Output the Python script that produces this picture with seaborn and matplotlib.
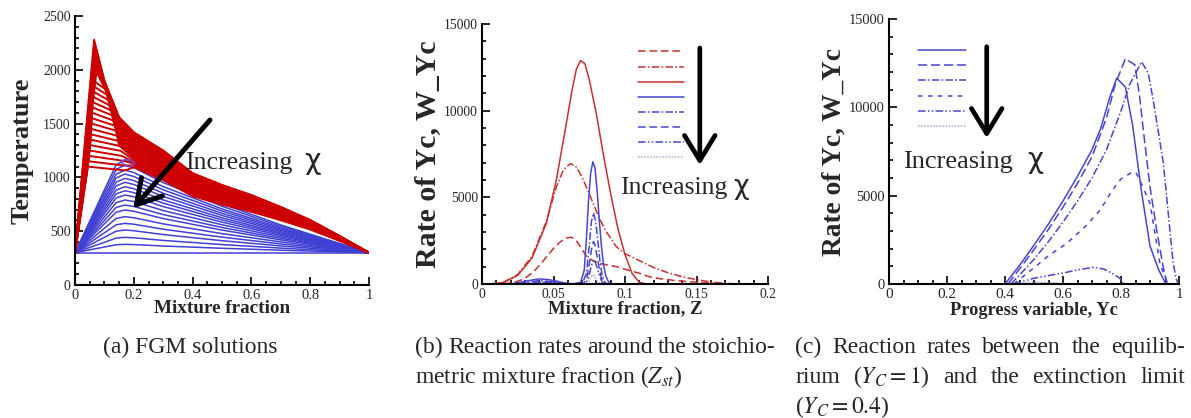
import matplotlib
matplotlib.use("Agg")
import matplotlib.pyplot as plt
import pandas as pd
import seaborn as sns
from matplotlib.lines import Line2D
from matplotlib.ticker import MultipleLocator, FuncFormatter

sns.set_theme(style="ticks")
plt.rcParams["font.family"] = ["Liberation Serif", "DejaVu Serif"]
plt.rcParams["mathtext.fontset"] = "stix"
plt.rcParams["axes.linewidth"] = 1.5

# ---------------------------------------------------------------- panel (a)
T_BOUNDARY = 300.0

# burning flamelets (red): peak, end of the plateau and decay level of each flamelet
red_peak_T = [2280, 2250, 2215, 2180, 2140, 2100, 2060, 2020, 1980,
              1900, 1850, 1800, 1750, 1700, 1650, 1600, 1550, 1500,
              1450, 1400, 1350, 1300, 1250, 1200, 1150, 1100]
red_peak_Z = [0.065, 0.066, 0.067, 0.068, 0.069, 0.070, 0.071, 0.072, 0.073,
              0.062, 0.062, 0.061, 0.061, 0.060, 0.060, 0.059, 0.058, 0.057,
              0.056, 0.055, 0.054, 0.052, 0.050, 0.048, 0.046, 0.044]
red_plateau_Z = [None] * 9 + [0.103, 0.107, 0.112, 0.116, 0.121, 0.125, 0.129, 0.134,
                             0.138, 0.142, 0.146, 0.151, 0.155, 0.159, 0.163, 0.167, 0.171]
red_plateau_T = [None] * 9 + [1820, 1770, 1720, 1672, 1625, 1578, 1530, 1482,
                             1435, 1388, 1340, 1293, 1247, 1200, 1155, 1110, 1065]
red_decay_level = [1.0, 0.995, 0.99, 0.985, 0.98, 0.975, 0.97, 0.965, 0.96,
                   0.95, 0.935, 0.92, 0.905, 0.89, 0.875, 0.86, 0.845, 0.83,
                   0.815, 0.80, 0.785, 0.77, 0.755, 0.74, 0.725, 0.71]
# lean-side envelope of the hottest flamelet
red_env_Z = [0.10, 0.15, 0.20, 0.30, 0.40, 0.50, 0.60, 0.70, 0.80, 0.90, 1.00]
red_env_T = [1900, 1560, 1420, 1250, 1040, 930, 836, 725, 604, 455, 300]

# extinguishing flamelets (blue): peak temperature at Z = 0.17
blue_peak_T = [300, 378, 443, 511, 573, 635, 697, 743, 790, 836,
               876, 913, 954, 991, 1031, 1068, 1115, 1160]
blue_shape_Z = [0.0, 0.14, 0.17, 0.20, 0.30, 0.50, 0.70, 0.85, 1.0]
blue_shape = [0.0, 0.95, 1.0, 0.97, 0.80, 0.53, 0.30, 0.15, 0.0]

# transition loop near the turning point
loop_Z = [0.158, 0.172, 0.188, 0.203, 0.197, 0.184, 0.170, 0.160, 0.158]
loop_T = [1150, 1168, 1162, 1132, 1108, 1100, 1112, 1135, 1150]

# ---------------------------------------------------------------- panel (b)
b_red_dash_Z = [0.015, 0.022, 0.028, 0.0315, 0.036, 0.041, 0.045, 0.050, 0.055, 0.059, 0.0625,
                0.066, 0.070, 0.073, 0.077, 0.082, 0.088, 0.094, 0.100, 0.110, 0.117, 0.125,
                0.135, 0.145, 0.155, 0.165, 0.175]
b_red_dash_W = [0, 80, 250, 420, 700, 1150, 1550, 2050, 2450, 2650, 2700,
                2500, 2000, 1600, 1380, 1200, 1090, 1000, 850, 620, 420, 300,
                200, 130, 70, 20, 0]
b_red_dashdot_Z = [0.005, 0.015, 0.025, 0.035, 0.045, 0.052, 0.057, 0.062, 0.066, 0.070, 0.074,
                   0.078, 0.082, 0.087, 0.094, 0.100, 0.110, 0.120, 0.130, 0.140, 0.150, 0.160,
                   0.170, 0.178]
b_red_dashdot_W = [0, 100, 550, 1600, 3600, 5600, 6600, 6950, 6750, 6150, 5400,
                   4600, 3800, 3000, 2150, 1750, 1350, 950, 650, 420, 250, 120,
                   40, 0]
b_red_solid_Z = [0.005, 0.015, 0.025, 0.035, 0.045, 0.052, 0.058, 0.063, 0.066, 0.069, 0.072,
                 0.075, 0.080, 0.085, 0.090, 0.095, 0.100, 0.105, 0.110, 0.115]
b_red_solid_W = [0, 80, 500, 1500, 3500, 6000, 8800, 11200, 12400, 12900, 12700,
                 11800, 9800, 7400, 5200, 3200, 1700, 600, 100, 0]
b_blue_solid_Z = [0.020, 0.028, 0.035, 0.040, 0.046, 0.052, 0.058, 0.064, 0.069, 0.0715, 0.073,
                  0.0745, 0.076, 0.0775, 0.079, 0.0805, 0.082, 0.0835, 0.085, 0.0865, 0.088,
                  0.0895, 0.091]
b_blue_solid_W = [0, 120, 230, 290, 260, 170, 60, 10, 100, 800, 2600,
                  4800, 6400, 7050, 6700, 5400, 3700, 2200, 1100, 500, 200,
                  50, 0]
b_blue_dashdot_Z = [0.025, 0.033, 0.040, 0.047, 0.054, 0.062, 0.070, 0.073, 0.075, 0.0765, 0.078,
                    0.0795, 0.081, 0.0825, 0.084, 0.086, 0.088]
b_blue_dashdot_W = [0, 120, 200, 150, 50, 0, 0, 600, 2200, 3600, 4100,
                    3600, 2500, 1300, 500, 100, 0]
b_blue_dash_Z = [0.028, 0.036, 0.042, 0.049, 0.056, 0.063, 0.071, 0.0735, 0.0755, 0.077, 0.078,
                 0.079, 0.0805, 0.082, 0.0835, 0.0855, 0.087]
b_blue_dash_W = [0, 90, 140, 100, 30, 0, 0, 400, 1400, 2200, 2450,
                 2250, 1600, 900, 350, 60, 0]
b_blue_dashdotdot_Z = [0.030, 0.038, 0.044, 0.050, 0.057, 0.064, 0.072, 0.074, 0.0757, 0.0772,
                       0.0782, 0.0795, 0.081, 0.0825, 0.084, 0.086]
b_blue_dashdotdot_W = [0, 60, 90, 60, 15, 0, 0, 250, 800, 1250,
                       1400, 1200, 800, 400, 120, 0]
b_light_dot_Z = [0.073, 0.0748, 0.0762, 0.0775, 0.0788, 0.080, 0.0815, 0.083]
b_light_dot_W = [0, 150, 420, 550, 450, 250, 80, 0]

# ---------------------------------------------------------------- panel (c)
c_solid_Y = [0.40, 0.45, 0.50, 0.55, 0.60, 0.65, 0.70, 0.73, 0.76, 0.785, 0.815, 0.84, 0.87,
             0.90, 0.93, 0.952, 0.955]
c_solid_W = [0, 1050, 2200, 3400, 4700, 6100, 7600, 8800, 10500, 11650, 11150, 9000, 5300,
             2150, 800, 100, 0]
c_longdash_Y = [0.41, 0.45, 0.50, 0.55, 0.60, 0.65, 0.70, 0.75, 0.78, 0.815, 0.848, 0.865, 0.877,
                0.90, 0.923, 0.945, 0.958, 0.96]
c_longdash_W = [0, 850, 1950, 3100, 4350, 5700, 7200, 9400, 11300, 12750, 12400, 10500, 8700,
                5500, 3050, 1000, 100, 0]
c_dashdot_Y = [0.42, 0.45, 0.50, 0.55, 0.60, 0.65, 0.70, 0.75, 0.80, 0.83, 0.871, 0.894, 0.91,
               0.93, 0.946, 0.96, 0.97, 0.98, 0.99, 0.998]
c_dashdot_W = [0, 500, 1400, 2400, 3500, 4700, 6000, 7600, 9800, 11300, 12580, 11930, 10500,
               8500, 6830, 4500, 2800, 1170, 300, 0]
c_shortdash_Y = [0.43, 0.498, 0.55, 0.613, 0.68, 0.728, 0.77, 0.80, 0.842, 0.853, 0.860, 0.90,
                 0.934, 0.958, 0.96]
c_shortdash_W = [0, 890, 1600, 2300, 3300, 4190, 5300, 5950, 6360, 6250, 6050, 4570,
                 1170, 130, 0]
c_dashdotdot_Y = [0.43, 0.498, 0.55, 0.60, 0.65, 0.705, 0.74, 0.77, 0.797, 0.80, 0.81]
c_dashdotdot_W = [0, 320, 480, 620, 800, 945, 850, 600, 320, 150, 0]
c_dot_Y = [0.44, 0.50, 0.55, 0.60, 0.65]
c_dot_W = [0, 120, 80, 30, 0]

# ---------------------------------------------------------------- styles
RED_A = "#cc0000"
BLUE_A = "#4040d4"
RED_B = "#c83030"
BLUE_B = "#4646d2"
LIGHT = "#b4a4d6"
PURPLE = "#8a3cc0"

DASH = (5, 2.5)
LONGDASH = (6, 2.5)
SHORTDASH = (3, 3.5)
DASHDOT = (5, 1.5, 1, 1.5)
DASHDOTDOT = (5, 1.5, 1, 1.5, 1, 1.5)
DOT = (1, 1)

W_PX, H_PX = 1191, 418
fig = plt.figure(figsize=(W_PX / 100, H_PX / 100), dpi=100)
ax_a = fig.add_axes([75 / W_PX, 133 / H_PX, 294 / W_PX, 269 / H_PX])
ax_b = fig.add_axes([482 / W_PX, 134 / H_PX, 286 / W_PX, 260 / H_PX])
ax_c = fig.add_axes([889 / W_PX, 134 / H_PX, 290 / W_PX, 265 / H_PX])

fmt = FuncFormatter(lambda v, p: f"{v:g}")


def style_axes(ax, xmax, ymax, xmaj, xmin, ymaj, ymin, xfs, yfs):
    ax.set_xlim(0, xmax)
    ax.set_ylim(0, ymax)
    sns.despine(ax=ax)
    ax.xaxis.set_major_locator(MultipleLocator(xmaj))
    ax.xaxis.set_minor_locator(MultipleLocator(xmin))
    ax.yaxis.set_major_locator(MultipleLocator(ymaj))
    ax.yaxis.set_minor_locator(MultipleLocator(ymin))
    ax.xaxis.set_major_formatter(fmt)
    ax.yaxis.set_major_formatter(fmt)
    ax.tick_params(which="both", direction="in", top=False, right=False,
                   color="black", width=1.2)
    ax.tick_params(which="major", length=5.5)
    ax.tick_params(which="minor", length=3)
    ax.tick_params(axis="x", labelsize=xfs, pad=3)
    ax.tick_params(axis="y", labelsize=yfs, pad=3)
    for lab in ax.get_xticklabels() + ax.get_yticklabels():
        lab.set_fontfamily(["Liberation Serif"])
    ax.set_facecolor("white")
    for s in ax.spines.values():
        s.set_color("black")


def axis_labels(ax, xl, yl, xfs, yfs, xly, ylx):
    ax.set_xlabel(xl, fontsize=xfs, fontweight="bold")
    ax.set_ylabel(yl, fontsize=yfs, fontweight="bold")
    ax.xaxis.set_label_coords(0.5, xly)
    ax.xaxis.label.set_va("baseline")
    ax.yaxis.set_label_coords(ylx, 0.5)
    ax.yaxis.label.set_va("center")


def increasing_chi(ax, x_word, x_chi, y, fs_word, fs_chi):
    ax.text(x_word, y, "Increasing", fontsize=fs_word, ha="left", va="baseline",
            family=["Liberation Serif"])
    ax.text(x_chi, y, "χ", fontsize=fs_chi, ha="left", va="baseline",
            family=["DejaVu Sans"])


# ---------------------------------------------------------------- draw (a)
blue_rows = []
for k, tp in enumerate(blue_peak_T):
    for z, s in zip(blue_shape_Z, blue_shape):
        blue_rows.append((k, z, T_BOUNDARY + (tp - T_BOUNDARY) * s))
blue_df = pd.DataFrame(blue_rows, columns=["flamelet", "Z", "T"])

red_rows = []
for k, tp in enumerate(red_peak_T):
    zs = [0.0, red_peak_Z[k]]
    ts = [T_BOUNDARY, tp]
    if red_plateau_Z[k] is not None:
        zs.append(red_plateau_Z[k])
        ts.append(red_plateau_T[k])
    for ze, te in zip(red_env_Z, red_env_T):
        if ze > zs[-1]:
            zs.append(ze)
            ts.append(T_BOUNDARY + (te - T_BOUNDARY) * red_decay_level[k])
    for z, t in zip(zs, ts):
        red_rows.append((k, z, t))
red_df = pd.DataFrame(red_rows, columns=["flamelet", "Z", "T"])

loop_df = pd.DataFrame({"Z": loop_Z, "T": loop_T})

sns.lineplot(data=blue_df, x="Z", y="T", units="flamelet", estimator=None, sort=False,
             color=BLUE_A, lw=1.1, ax=ax_a, legend=False)
sns.lineplot(data=red_df, x="Z", y="T", units="flamelet", estimator=None, sort=False,
             color=RED_A, lw=1.4, ax=ax_a, legend=False)
sns.lineplot(data=loop_df, x="Z", y="T", estimator=None, sort=False,
             color=PURPLE, lw=1.2, ax=ax_a, legend=False)

style_axes(ax_a, 1, 2500, 0.2, 0.05, 500, 100, 10.5, 10)
axis_labels(ax_a, "Mixture fraction", "Temperature", 13.8, 19, -0.104, -0.18)
ax_a.annotate("", xy=(0.198, 712), xytext=(0.459, 1533),
              arrowprops=dict(arrowstyle="->,head_length=0.85,head_width=0.5",
                              lw=3.6, color="black", shrinkA=0, shrinkB=0,
                              mutation_scale=20))
increasing_chi(ax_a, 0.374, 0.779, 1075, 18.5, 20.5)

# ---------------------------------------------------------------- draw (b)
b_cases = [
    ("1", b_red_dash_Z, b_red_dash_W, RED_B, DASH),
    ("2", b_red_dashdot_Z, b_red_dashdot_W, RED_B, DASHDOT),
    ("3", b_red_solid_Z, b_red_solid_W, RED_B, ""),
    ("4", b_blue_solid_Z, b_blue_solid_W, BLUE_B, ""),
    ("5", b_blue_dashdot_Z, b_blue_dashdot_W, BLUE_B, DASHDOT),
    ("6", b_blue_dash_Z, b_blue_dash_W, BLUE_B, DASH),
    ("7", b_blue_dashdotdot_Z, b_blue_dashdotdot_W, BLUE_B, DASHDOTDOT),
    ("8", b_light_dot_Z, b_light_dot_W, LIGHT, DOT),
]
b_df = pd.concat([pd.DataFrame({"case": c, "Z": z, "W": w}) for c, z, w, _, _ in b_cases])
sns.lineplot(data=b_df, x="Z", y="W", hue="case", style="case", units="case",
             estimator=None, sort=False,
             palette={c: col for c, _, _, col, _ in b_cases},
             dashes={c: d for c, _, _, _, d in b_cases},
             lw=1.1, ax=ax_b, legend=False)
style_axes(ax_b, 0.2, 15000, 0.05, 0.01, 5000, 1000, 9.8, 9.8)
axis_labels(ax_b, "Mixture fraction, Z", "Rate of Yc, W_Yc", 13.4, 21.5, -0.1115, -0.19)

handles_b = [Line2D([], [], color=col, lw=1.1,
                    linestyle=(0, d) if d else "-") for _, _, _, col, d in b_cases]
ax_b.legend(handles_b, [""] * len(handles_b), loc="upper left",
            bbox_to_anchor=(0.545, 0.9085), frameon=False, fontsize=7,
            handlelength=4.7, handletextpad=0, borderpad=0, borderaxespad=0,
            labelspacing=0.63)
ax_b.annotate("", xy=(0.1523, 6865), xytext=(0.1523, 13615),
              arrowprops=dict(arrowstyle="->,head_length=0.9,head_width=0.55",
                              lw=3.4, color="black", shrinkA=0, shrinkB=0,
                              mutation_scale=20))
increasing_chi(ax_b, 0.0965, 0.1755, 5175, 18.5, 19.5)

# ---------------------------------------------------------------- draw (c)
c_cases = [
    ("1", c_solid_Y, c_solid_W, ""),
    ("2", c_longdash_Y, c_longdash_W, LONGDASH),
    ("3", c_dashdot_Y, c_dashdot_W, DASHDOT),
    ("4", c_shortdash_Y, c_shortdash_W, SHORTDASH),
    ("5", c_dashdotdot_Y, c_dashdotdot_W, DASHDOTDOT),
    ("6", c_dot_Y, c_dot_W, DOT),
]
c_colors = {"1": BLUE_B, "2": BLUE_B, "3": BLUE_B, "4": BLUE_B, "5": BLUE_B, "6": LIGHT}
c_df = pd.concat([pd.DataFrame({"case": c, "Yc": y, "W": w}) for c, y, w, _ in c_cases])
sns.lineplot(data=c_df, x="Yc", y="W", hue="case", style="case", units="case",
             estimator=None, sort=False, palette=c_colors,
             dashes={c: d for c, _, _, d in c_cases},
             lw=1.1, ax=ax_c, legend=False)
style_axes(ax_c, 1, 15000, 0.2, 0.05, 5000, 1000, 11, 10.4)
axis_labels(ax_c, "Progress variable, Yc", "Rate of Yc, W_Yc", 13.2, 19.7, -0.117, -0.19)

handles_c = [Line2D([], [], color=c_colors[c], lw=1.1,
                    linestyle=(0, d) if d else "-") for c, _, _, d in c_cases]
ax_c.legend(handles_c, [""] * len(handles_c), loc="upper left",
            bbox_to_anchor=(0.10, 0.8977), frameon=False, fontsize=7,
            handlelength=4.9, handletextpad=0, borderpad=0, borderaxespad=0,
            labelspacing=0.65)
ax_c.annotate("", xy=(0.337, 8264), xytext=(0.337, 13430),
              arrowprops=dict(arrowstyle="->,head_length=0.9,head_width=0.55",
                              lw=3.4, color="black", shrinkA=0, shrinkB=0,
                              mutation_scale=20))
increasing_chi(ax_c, 0.048, 0.475, 6549, 19, 20)

# ---------------------------------------------------------------- captions
CAP = 17


def caption_line(x0_px, base_px, words, x1_px=None):
    """Write one caption line; with x1_px the words are spread to a justified width."""
    if x1_px is None:
        fig.text(x0_px / W_PX, 1 - base_px / H_PX, " ".join(words),
                 fontsize=CAP, va="baseline")
        return
    objs = [fig.text(0, 1 - base_px / H_PX, w, fontsize=CAP, va="baseline") for w in words]
    renderer = fig.canvas.get_renderer()
    widths = [o.get_window_extent(renderer).width for o in objs]
    gap = (x1_px - x0_px - sum(widths)) / (len(words) - 1)
    pos = x0_px
    for o, w in zip(objs, widths):
        o.set_x(pos / W_PX)
        pos += w + gap


caption_line(103, 353, ["(a)", "FGM", "solutions"])
caption_line(415, 353, ["(b)", "Reaction", "rates", "around", "the", "stoichio-"], 775)
caption_line(415, 383, ["metric", "mixture", "fraction", "($Z_{st}$)"])
caption_line(795, 353, ["(c)", "Reaction", "rates", "between", "the", "equilib-"], 1185)
caption_line(795, 383, ["rium", "($Y_C = 1$)", "and", "the", "extinction", "limit"], 1185)
caption_line(795, 413, ["($Y_C = 0.4$)"])

fig.savefig("out.png", dpi=100, facecolor="white")
